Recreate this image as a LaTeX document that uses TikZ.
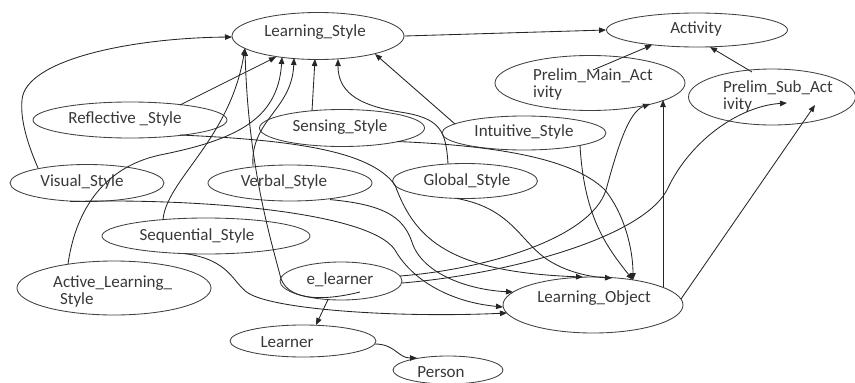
\documentclass[tikz,border=0pt]{standalone}
\usepackage{fontspec}
\setmainfont{Carlito}
\usetikzlibrary{arrows.meta,calc,shapes.geometric}
\begin{document}
\begin{tikzpicture}[x=1pt,y=-1pt,
  ell/.style={draw=black!75,line width=0.85pt,ellipse,inner sep=0pt},
  lbl/.style={inner sep=0pt,text=black!78,font=\fontsize{17}{17}\selectfont,align=left},
  con/.style={draw=black!85,line width=0.85pt,-{Triangle[length=7pt,width=5.5pt]}},
]
\useasboundingbox (0,0) rectangle (855,383);
% ellipses
\node[ell,minimum width=172pt,minimum height=47pt] (ls) at (318,36) {};
\node[ell,minimum width=181pt,minimum height=34pt] (act) at (697,30) {};
\node[ell,minimum width=190pt,minimum height=55pt] (pm) at (590,83) {};
\node[ell,minimum width=167pt,minimum height=56pt] (ps) at (772,97) {};
\node[ell,minimum width=194pt,minimum height=36pt] (ref) at (130,120) {};
\node[ell,minimum width=165pt,minimum height=37pt] (sen) at (342,128) {};
\node[ell,minimum width=164pt,minimum height=34pt] (int) at (524,133) {};
\node[ell,minimum width=154pt,minimum height=37pt] (vis) at (87,183) {};
\node[ell,minimum width=164pt,minimum height=36pt] (ver) at (290,183) {};
\node[ell,minimum width=145pt,minimum height=35pt] (glo) at (465,181) {};
\node[ell,minimum width=208pt,minimum height=36pt] (seq) at (206,236) {};
\node[ell,minimum width=194pt,minimum height=54pt] (acl) at (114,288) {};
\node[ell,minimum width=122pt,minimum height=38pt] (el) at (341,281) {};
\node[ell,minimum width=146pt,minimum height=32pt] (lrn) at (303,341) {};
\node[ell,minimum width=110pt,minimum height=28pt] (per) at (448,370) {};
\node[ell,minimum width=180pt,minimum height=56pt] (lo) at (593,305) {};
% texts
\node[lbl] (tls) at (315,32) {Learning\_Style};
\node[lbl] (tact) at (696,29) {Activity};
\node[lbl,anchor=west] (tpm) at (533,84) {Prelim\_Main\_Act\\ivity};
\node[lbl,anchor=west] (tps) at (723,96) {Prelim\_Sub\_Act\\ivity};
\node[lbl] (tref) at (125,119) {Reflective \_Style};
\node[lbl] (tsen) at (340,127) {Sensing\_Style};
\node[lbl] (tint) at (524,132) {Intuitive\_Style};
\node[lbl] (tvis) at (82,182) {Visual\_Style};
\node[lbl] (tver) at (284,182) {Verbal\_Style};
\node[lbl] (tglo) at (467,181) {Global\_Style};
\node[lbl] (tseq) at (197,236) {Sequential\_Style};
\node[lbl,anchor=west] (tacl) at (53,291) {Active\_Learning\_\\\hspace*{3pt} Style};
\node[lbl] (tel) at (340,280) {e\_learner};
\node[lbl] (tlrn) at (287,342) {Learner};
\node[lbl] (tper) at (441,372) {Person};
\node[lbl] (tlo) at (594,298) {Learning\_Object};
% connectors into Activity
\draw[con] (ls.east) -- (act.west);
\draw[con] ($(pm)+(3,-13)$) -- ($(act)+(-45,15)$);
\draw[con] ($(ps)+(-20,-25)$) -- ($(act)+(13,17)$);
% connectors into Learning_Style
\draw[con] ($(vis)+(-49,-15)$) .. controls (28,145) and (20,120) .. (22,100) .. controls (25,60) and (130,38) .. ($(ls)+(-86,1)$);
\draw[con] ($(ref)+(50,-15)$) -- ($(ls)+(-42,21)$);
\draw[con] ($(acl)+(-46,-24)$) .. controls (75,215) and (100,168) .. (160,155) .. controls (235,140) and (278,120) .. ($(ls)+(-36,21)$);
\draw[con] ($(ver)+(-37,-17)$) .. controls (250,120) and (292,110) .. ($(ls)+(-24,22)$);
\draw[con] ($(sen)+(-30,-17)$) -- ($(ls)+(-3,23)$);
\draw[con] ($(glo)+(-17,-17)$) .. controls (446,130) and (440,118) .. (400,112) .. controls (355,105) and (338,90) .. ($(ls)+(20,23)$);
\draw[con] ($(int)+(-69,-9)$) -- ($(ls)+(57,18)$);
\draw[con] ($(seq)+(-43,-16)$) .. controls (166,180) and (230,140) .. ($(ls)+(-73,12)$);
\draw[con] ($(el)+(19,11)$) .. controls (320,302) and (285,300) .. (280,275) .. controls (268,230) and (248,160) .. ($(ls)+(-73,13)$);
% e_learner / Learner / Person
\draw[con] ($(el)+(-13,18.5)$) -- ($(lrn)+(13,-16)$);
\draw[con] ($(lrn)+(72,3)$) .. controls (395,344) and (398,358) .. ($(per)+(-31,-12)$);
% Learning_Object to activities
\draw[con] ($(lo)+(70,-18)$) -- ($(pm)+(73,17)$);
\draw[con] ($(lo)+(88,-6)$) -- ($(ps)+(43,8)$);
% e_learner to activities
\draw[con] ($(el)+(59,-5)$) .. controls (480,270) and (590,240) .. (606,190) .. controls (617,150) and (628,112) .. ($(pm)+(60,21)$);
\draw[con] ($(el)+(61,2)$) .. controls (500,275) and (640,240) .. (667,190) .. controls (690,140) and (740,106) .. ($(ps)+(15,6)$);
% styles into Learning_Object
\draw[con] ($(sen)+(55,13.5)$) .. controls (480,145) and (570,155) .. (605,190) .. controls (625,215) and (633,250) .. ($(lo)+(40,-25)$);
\draw[con] ($(int)+(56,12.4)$) .. controls (584,215) and (605,245) .. ($(lo)+(40,-25)$);
\draw[con] ($(glo)+(-8,17.5)$) .. controls (510,208) and (520,240) .. (545,258) .. controls (565,272) and (590,277) .. ($(lo)+(19,-27)$);
\draw[con] ($(ref)+(50,15)$) .. controls (290,140) and (370,150) .. (395,185) .. controls (415,240) and (450,272) .. ($(lo)+(-10,-28)$);
\draw[con] ($(ver)+(40,16.6)$) .. controls (390,205) and (405,220) .. (413,245) .. controls (425,275) and (470,290) .. ($(lo)+(-80,-13)$);
\draw[con] ($(vis)+(-17,18.5)$) .. controls (200,198) and (370,212) .. (395,250) .. controls (412,280) and (450,302) .. ($(lo)+(-90,2)$);
\draw[con] ($(seq)+(-21,17.6)$) .. controls (230,260) and (232,282) .. (248,293) .. controls (275,310) and (400,318) .. ($(lo)+(-86,8)$);
\end{tikzpicture}
\end{document}
